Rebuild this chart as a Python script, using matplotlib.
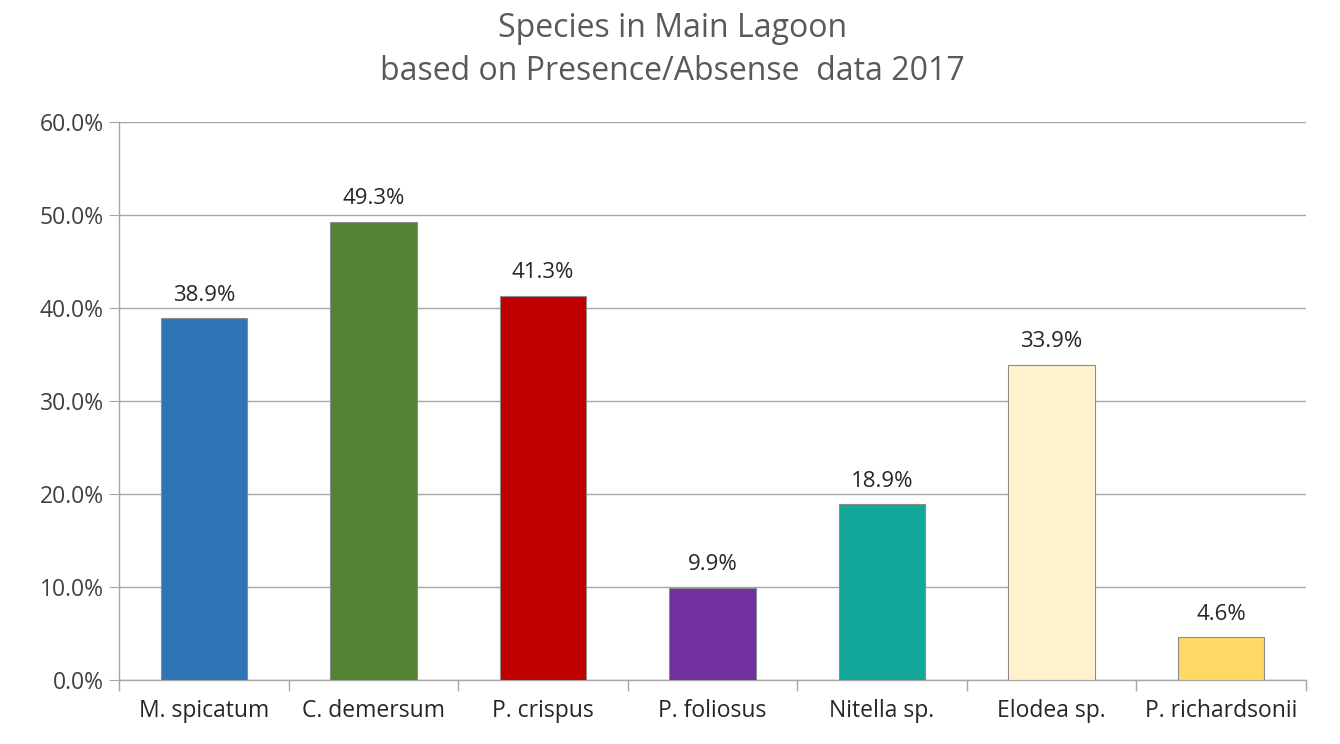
import matplotlib
matplotlib.use('Agg')
import matplotlib.pyplot as plt
import numpy as np

plt.rcParams['font.family'] = ['Open Sans', 'DejaVu Sans']

species = ['M. spicatum', 'C. demersum', 'P. crispus', 'P. foliosus',
           'Nitella sp.', 'Elodea sp.', 'P. richardsonii']
values = [38.9, 49.3, 41.3, 9.9, 18.9, 33.9, 4.6]
bar_colors = ['#2E75B6', '#548235', '#C00000', '#7030A0',
              '#13A89A', '#FFF2CC', '#FFD966']
yticks = [0, 10, 20, 30, 40, 50, 60]

txt = '#404040'
grid = '#A6A6A6'

fig = plt.figure(figsize=(13.4, 7.44), dpi=100)
ax = fig.add_axes([0.0888, 0.086, 0.8858, 0.750])

x = np.arange(len(species))
ax.bar(x, values, width=0.51, color=bar_colors, edgecolor='#8C8C8C', linewidth=0.8, zorder=3)
for xi, v in zip(x, values):
    ax.annotate('%.1f%%' % v, (xi, v), xytext=(0, 9), textcoords='offset points',
                ha='center', va='bottom', fontsize=16, color='#262626')

ax.set_xlim(-0.5, len(species) - 0.5)
ax.set_ylim(0, 60)
ax.set_yticks(yticks)
ax.set_yticklabels(['%.1f%%' % t for t in yticks], fontsize=16.5, color=txt)
ax.yaxis.grid(True, color=grid, linewidth=1.0, zorder=0)
ax.tick_params(axis='y', length=7, color=grid, pad=4)

ax.set_xticks(x)
ax.set_xticklabels(species, fontsize=16.5, color='#262626')
ax.tick_params(axis='x', length=0, pad=14)
ax.set_xticks(np.arange(-0.5, len(species), 1.0), minor=True)
ax.tick_params(axis='x', which='minor', length=8, color=grid, width=1.0)

for s in ['top', 'right']:
    ax.spines[s].set_visible(False)
ax.spines['left'].set_color(grid)
ax.spines['bottom'].set_color(grid)
ax.spines['left'].set_linewidth(1.0)
ax.spines['bottom'].set_linewidth(1.0)

fig.text(0.502, 0.984, 'Species in Main Lagoon\nbased on Presence/Absense  data 2017',
         ha='center', va='top', fontsize=23, color='#595959', linespacing=1.42)

fig.savefig('out.png', dpi=100, facecolor='white')
